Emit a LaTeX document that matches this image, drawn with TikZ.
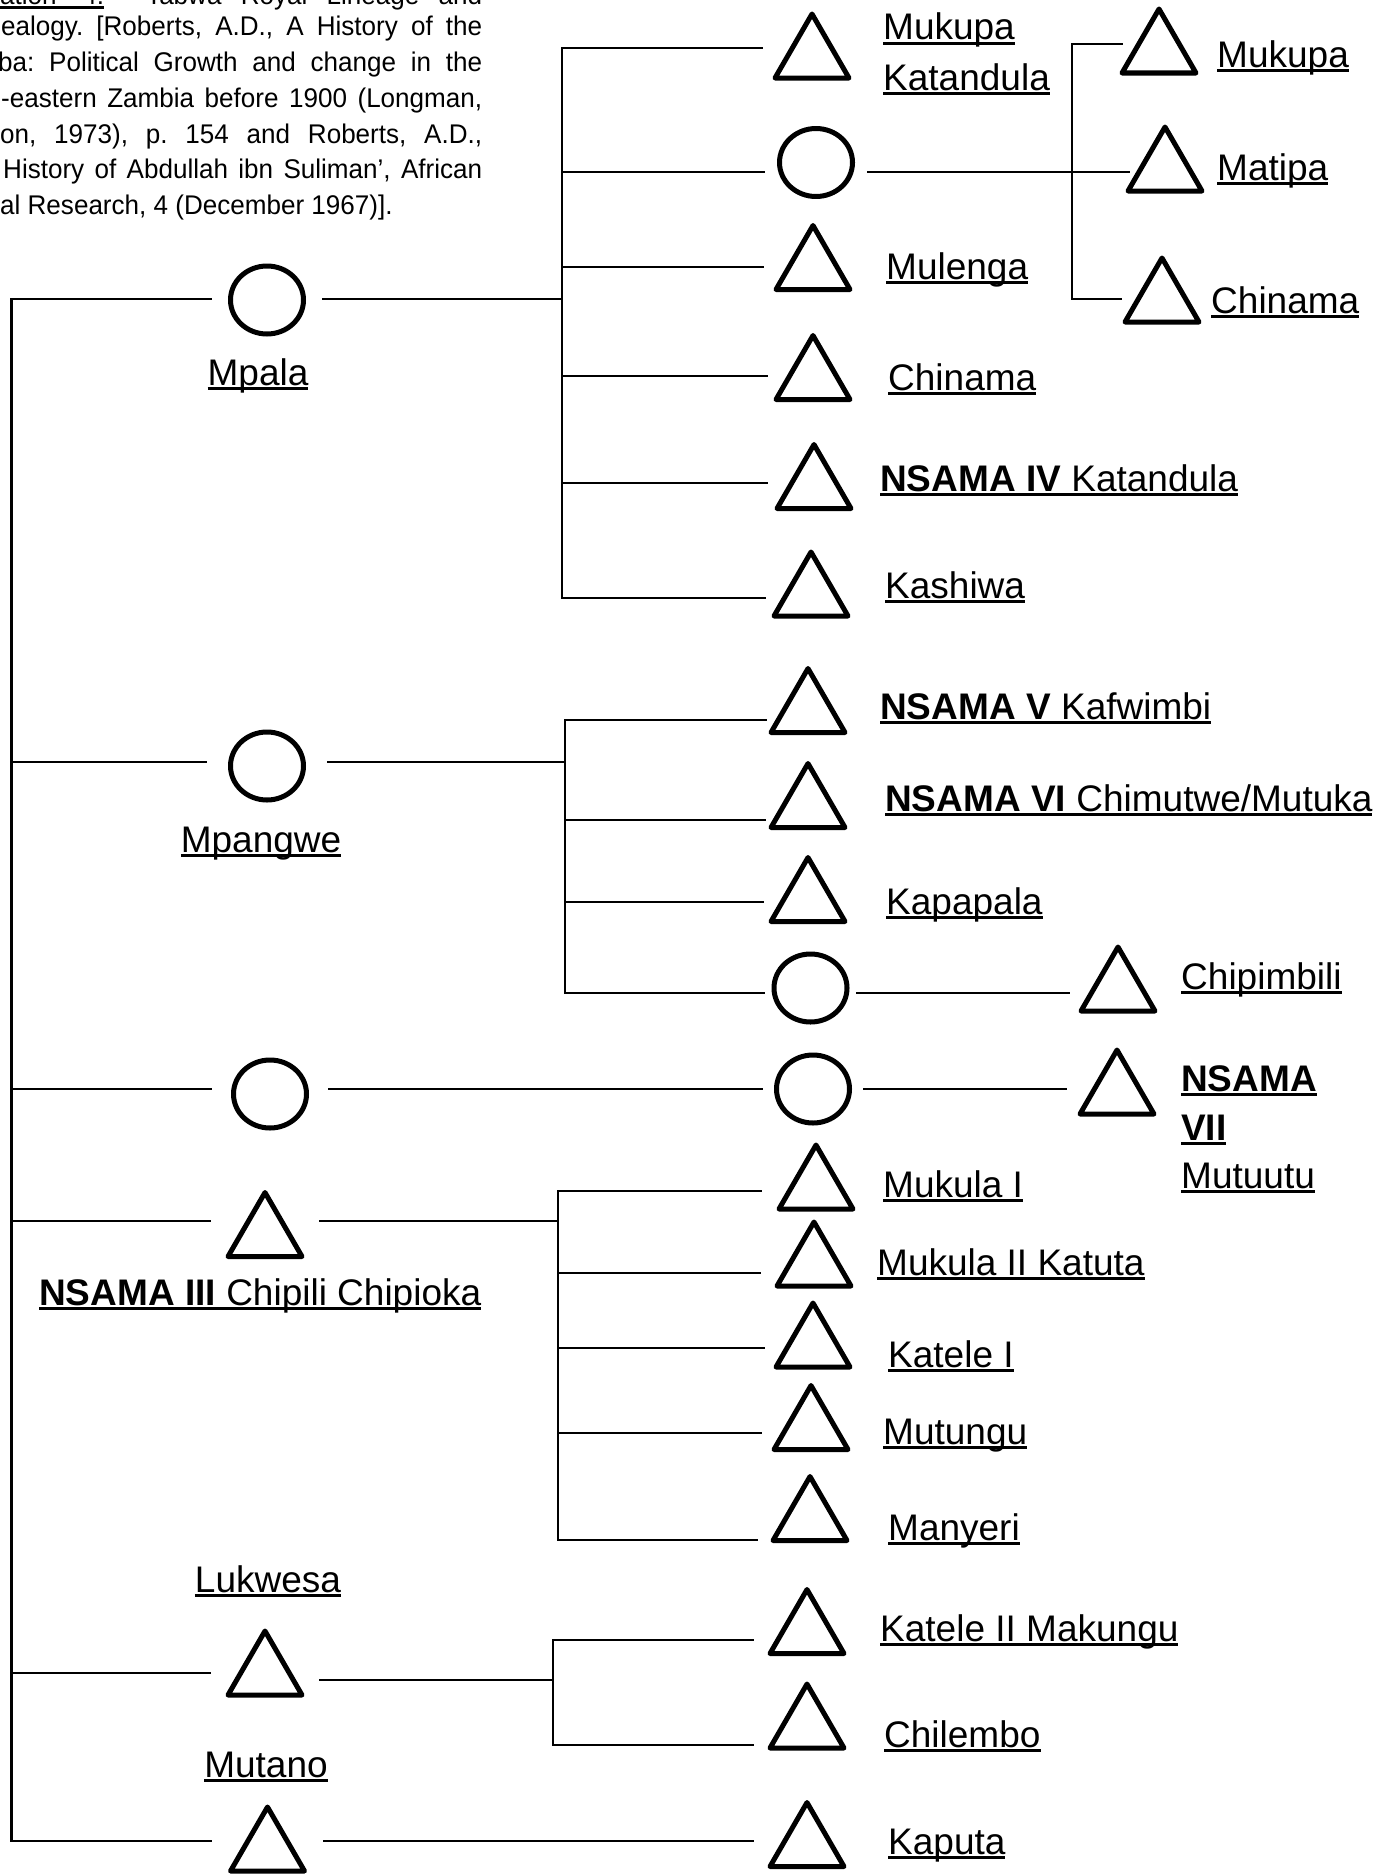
\documentclass[tikz,border=0pt]{standalone}
\usepackage{fontspec}
\setmainfont{Liberation Sans}
\newfontfamily\reffont{Liberation Sans}[FakeStretch=0.965]
\newcommand\ulx[1]{\setbox0=\hbox{#1}\rlap{\rule[-0.13em]{\wd0}{0.075em}}\box0}
\begin{document}
\begin{tikzpicture}[x=1pt,y=-1pt,
  conn/.style={line width=2.2pt, line cap=rect},
  shapeline/.style={line width=5pt, line join=round},
  pbox/.style={inner sep=0pt, minimum width=120pt, minimum height=150pt},
  male/.style 2 args={pbox, outer xsep=#1pt, path picture={\draw[shapeline] ([yshift=#2pt]path picture bounding box.center) ++(0pt,32pt) -- ++(37pt,-64pt) -- ++(-74pt,0pt) -- cycle;}},
  female/.style 2 args={pbox, outer xsep=#1pt, path picture={\draw[shapeline] ([yshift=#2pt]path picture bounding box.center) ellipse (36.5pt and 34pt);}},
  lab/.style={anchor=base west, inner sep=0pt, font=\fontsize{37}{44}\selectfont},
  labc/.style={lab, anchor=base},
  ref/.style={anchor=base west, inner sep=0pt, font=\reffont\fontsize{27}{35}\selectfont\frenchspacing},
]
\useasboundingbox (0,0) rectangle (1393,1876);
\clip (0,0) rectangle (1393,1876);

% reference text
\node[ref] (r1a) at (0,5) {\ulx{\makebox[104pt][s]{ation 4:}}};
\node[ref] (r1b) at (146,5) {\makebox[336pt][s]{Tabwa Royal Lineage and}};
\node[ref] (r2) at (1,36) {\makebox[481pt][s]{ealogy. [Roberts, A.D., A History of the}};
\node[ref] (r3) at (-2,71.5) {\makebox[484pt][s]{ba: Political Growth and change in the}};
\node[ref] (r4) at (1,107.5) {\makebox[481pt][s]{-eastern Zambia before 1900 (Longman,}};
\node[ref] (r5) at (0,143) {\makebox[482pt][s]{on, 1973), p. 154 and Roberts, A.D.,}};
\node[ref] (r6) at (3,178.5) {\makebox[479pt][s]{History of Abdullah ibn Suliman’, African}};
\node[ref] (r7) at (0,214) {al Research, 4 (December 1967)].};

% first generation
\node[female={-4}{-1}] (pMpala) at (267,299) {};
\node[female={1}{-4}] (pMpangwe) at (267,762) {};
\node[female={-1}{-5}] (pC3) at (270,1089) {};
\node[male={-5}{-3.5}] (pN3) at (265,1221) {};
\node[male={-4.5}{10}] (pLuk) at (265,1673) {};
\node[male={-3.5}{2}] (pMtn) at (267.5,1841) {};

% Mpala's children
\node[male={-10}{2}] (pMK) at (812,48) {};
\node[female={-8}{9.5}] (pD1) at (816,172) {};
\node[male={-10}{9.5}] (pMul) at (813,267) {};
\node[male={-14}{8.5}] (pChi) at (813,376) {};
\node[male={-13}{6.5}] (pN4) at (814,483) {};
\node[male={-14}{14}] (pKas) at (811,598) {};
\node[male={-23}{3}] (pMuk2) at (1159,44) {};
\node[male={-24}{13}] (pMat) at (1165,172) {};
\node[male={-19}{9}] (pChi2) at (1162,299) {};

% Mpangwe's children
\node[male={-18}{19.5}] (pN5) at (808,720) {};
\node[male={-17}{24.5}] (pN6) at (808,820) {};
\node[male={-15}{12.5}] (pKap) at (808,902) {};
\node[female={-13.5}{5}] (pMo) at (810.5,993) {};
\node[male={-11}{14}] (pChip) at (1118,993) {};

% third line
\node[female={-9}{0}] (pC3b) at (813,1089) {};
\node[male={-9}{7}] (pN7) at (1117,1089) {};

% NSAMA III's children
\node[male={-5}{14}] (pMk1) at (816,1191) {};
\node[male={-6}{19}] (pMk2) at (814,1273) {};
\node[male={-11}{13}] (pKat1) at (813,1348) {};
\node[male={-9.5}{15.5}] (pMut) at (811,1433) {};
\node[male={-7}{31.5}] (pMan) at (810,1540) {};

% Lukwesa's and Mutano's children
\node[male={-6}{18.5}] (pKat2) at (807,1640) {};
\node[male={-6}{29}] (pChil) at (807,1745) {};
\node[male={-6}{6.5}] (pKap2) at (807,1841) {};

% bracket coordinates
\coordinate (sp) at (11.5,0);
\coordinate (b1) at (562,0);
\coordinate (b2) at (1072,0);
\coordinate (b3) at (565,0);
\coordinate (b4) at (558,0);
\coordinate (b5) at (553,0);
\coordinate (lukR) at ([yshift=-7pt]pLuk.east);

% spine
\draw[conn] (sp |- pMpala.west) -- (sp |- pMtn.west);
\foreach \n in {pMpala,pMpangwe,pC3,pN3,pLuk,pMtn}
  \draw[conn] (sp |- \n.west) -- (\n.west);

% Mpala group
\draw[conn] (pMpala.east) -- (b1 |- pMpala.east);
\draw[conn] (b1 |- pMK.west) -- (b1 |- pKas.west);
\foreach \n in {pMK,pD1,pMul,pChi,pN4,pKas}
  \draw[conn] (b1 |- \n.west) -- (\n.west);
\draw[conn] (b2 |- pMuk2.west) -- (b2 |- pChi2.west);
\draw[conn] (pD1.east) -- (pMat.west);
\draw[conn] (b2 |- pMuk2.west) -- (pMuk2.west);
\draw[conn] (b2 |- pChi2.west) -- (pChi2.west);

% Mpangwe group
\draw[conn] (pMpangwe.east) -- (b3 |- pMpangwe.east);
\draw[conn] (b3 |- pN5.west) -- (b3 |- pMo.west);
\foreach \n in {pN5,pN6,pKap,pMo}
  \draw[conn] (b3 |- \n.west) -- (\n.west);
\draw[conn] (pMo.east) -- (pChip.west);

% third line
\draw[conn] (pC3.east) -- (pC3b.west);
\draw[conn] (pC3b.east) -- (pN7.west);

% NSAMA III group
\draw[conn] (pN3.east) -- (b4 |- pN3.east);
\draw[conn] (b4 |- pMk1.west) -- (b4 |- pMan.west);
\foreach \n in {pMk1,pMk2,pKat1,pMut,pMan}
  \draw[conn] (b4 |- \n.west) -- (\n.west);

% Lukwesa group
\draw[conn] (lukR) -- (b5 |- lukR);
\draw[conn] (b5 |- pKat2.west) -- (b5 |- pChil.west);
\foreach \n in {pKat2,pChil}
  \draw[conn] (b5 |- \n.west) -- (\n.west);

% Mutano
\draw[conn] (pMtn.east) -- (pKap2.west);

% labels
\node[lab] (lMK1) at (883,40) {\ulx{Mukupa}};
\node[lab] (lMK2) at (883,90) {\ulx{Katandula}};
\node[lab] (lMuk2) at (1217,67) {\ulx{Mukupa}};
\node[lab] (lMat) at (1217,180) {\ulx{Matipa}};
\node[lab] (lChi2) at (1211,313) {\ulx{Chinama}};
\node[lab] (lMul) at (886,279) {\ulx{Mulenga}};
\node[lab] (lChi) at (888,390) {\ulx{Chinama}};
\node[lab] (lN4) at (880,491) {\ulx{\textbf{NSAMA IV} Katandula}};
\node[lab] (lKas) at (885,598) {\ulx{Kashiwa}};
\node[labc] (lMpala) at (258,385) {\ulx{Mpala}};
\node[labc] (lMpangwe) at (261,852) {\ulx{Mpangwe}};
\node[lab] (lN5) at (880,719) {\ulx{\textbf{NSAMA V} Kafwimbi}};
\node[lab] (lN6) at (885,811) {\ulx{\textbf{NSAMA VI} Chimutwe/Mutuka}};
\node[lab] (lKap) at (886,914) {\ulx{Kapapala}};
\node[lab] (lChip) at (1181,989) {\ulx{Chipimbili}};
\node[lab] (lN7a) at (1181,1091) {\ulx{\textbf{NSAMA}}};
\node[lab] (lN7b) at (1181,1140) {\ulx{\textbf{VII}}};
\node[lab] (lN7c) at (1181,1188) {\ulx{Mutuutu}};
\node[lab] (lN3) at (39,1305) {\ulx{\textbf{NSAMA III} Chipili Chipioka}};
\node[lab] (lMk1) at (883,1197) {\ulx{Mukula I}};
\node[lab] (lMk2) at (877,1275) {\ulx{Mukula II Katuta}};
\node[lab] (lKat1) at (888,1367) {\ulx{Katele I}};
\node[lab] (lMut) at (883,1444) {\ulx{Mutungu}};
\node[lab] (lMan) at (888,1540) {\ulx{Manyeri}};
\node[labc] (lLuk) at (268,1592) {\ulx{Lukwesa}};
\node[lab] (lKat2) at (880,1641) {\ulx{Katele II Makungu}};
\node[lab] (lChil) at (884,1747) {\ulx{Chilembo}};
\node[labc] (lMtn) at (266,1777) {\ulx{Mutano}};
\node[lab] (lKap2) at (888,1854) {\ulx{Kaputa}};
\end{tikzpicture}
\end{document}
